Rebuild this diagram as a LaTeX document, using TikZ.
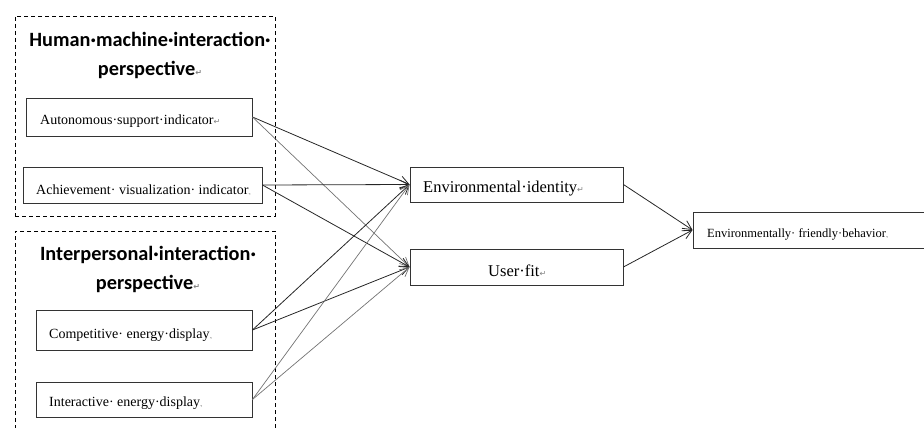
\documentclass[tikz,border=0pt]{standalone}
\usepackage{fontspec}
\setmainfont{Liberation Serif}
\newfontfamily\headfont{Carlito}
\newfontfamily\symfont{DejaVu Sans}
\usetikzlibrary{arrows.meta}
\newcommand{\pmark}{{\symfont\color{gray}\fontsize{8}{8}\selectfont ↵}}
\newcommand{\dmark}{{\color{gray}\fontsize{7}{7}\selectfont .\kern-1pt,}}
\begin{document}
\begin{tikzpicture}[x=1pt,y=-1pt,
  box/.style={draw=black!80, line width=0.9pt, inner sep=0pt},
  grp/.style={draw=black, dashed, line width=0.8pt, dash pattern=on 4pt off 3pt, inner sep=0pt},
  txt/.style={font=\fontsize{14}{16}\selectfont, inner sep=0pt, anchor=west},
  mtxt/.style={font=\fontsize{16.5}{18}\selectfont, inner sep=0pt, anchor=west},
  head/.style={font=\headfont\bfseries\fontsize{20.3}{29}\selectfont, inner sep=0pt, align=center},
  strong/.style={draw=black!85, line width=0.8pt, -{Straight Barb[length=9pt,width=9pt]}},
  light/.style={draw=black!55, line width=0.7pt, -{Straight Barb[length=9pt,width=9pt]}}
]
\useasboundingbox (0,0) rectangle (924,428);
\clip (0,0) rectangle (924,428);
% group frames
\node[grp, minimum width=260, minimum height=200] (g1) at (145,116) {};
\node[grp, minimum width=260, minimum height=210] (g2) at (145,336) {};
% headings
\node[head] (h1) at (150,55) {Human·machine·interaction·\\perspective\pmark};
\node[head] (h2) at (148,269) {Interpersonal·interaction·\\perspective\pmark};
% left boxes
\node[box, minimum width=226, minimum height=38] (a) at (139,117) {};
\node[txt] (ta) at (40,121) {Autonomous·support·indicator\pmark};
\node[box, minimum width=239, minimum height=36] (b) at (142.5,185) {};
\node[txt] (tb) at (36,190) {Achievement· visualization· indicator\dmark};
\node[box, minimum width=216, minimum height=40] (c) at (144,330) {};
\node[txt] (tc) at (49,335) {Competitive· energy·display\dmark};
\node[box, minimum width=216, minimum height=35] (d) at (144,399.5) {};
\node[txt] (td) at (49,403) {Interactive· energy·display\dmark};
% middle boxes
\node[box, minimum width=213, minimum height=35] (e) at (516.5,184.5) {};
\node[mtxt] (te) at (423,189) {Environmental·identity\pmark};
\node[box, minimum width=213, minimum height=36] (f) at (516.5,267) {};
\node[mtxt] (tf) at (488,271) {User·fit\pmark};
% right box
\node[box, minimum width=240, minimum height=36] (g) at (813,230) {};
\node[txt, font=\fontsize{12.5}{14}\selectfont] (tg) at (707,234) {Environmentally· friendly·behavior\dmark};
% connectors
\draw[strong] (a.east) -- (e.west);
\draw[light] (a.east) -- (f.west);
\draw[strong] (b.east) -- (e.west);
\draw[strong] (b.east) -- (f.west);
\draw[strong] (c.east) -- (e.west);
\draw[strong] (c.east) -- (f.west);
\draw[light] (d.east) -- (e.west);
\draw[light] (d.east) -- (f.west);
\draw[strong] (e.east) -- (g.west);
\draw[strong] (f.east) -- (g.west);
\end{tikzpicture}
\end{document}
